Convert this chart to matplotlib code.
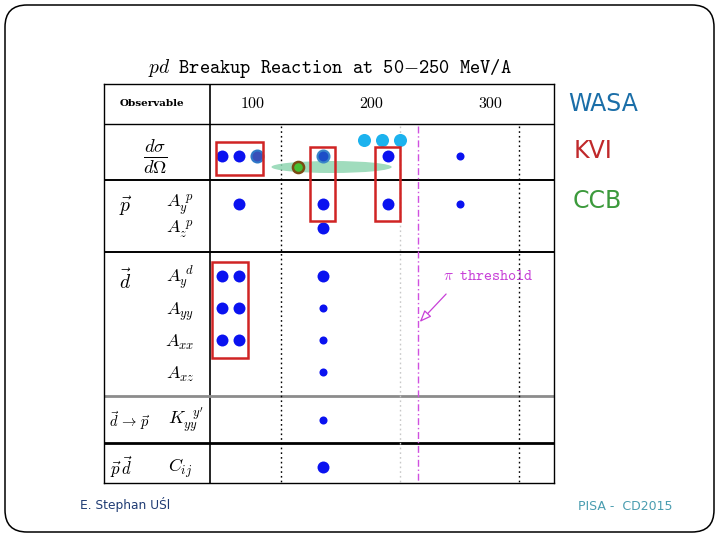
import numpy as np
import matplotlib
matplotlib.use("Agg")
import matplotlib.pyplot as plt
from matplotlib.patches import FancyBboxPatch, Rectangle, Ellipse

plt.rcParams['mathtext.fontset'] = 'cm'

# ================= DATA =================
# energy ticks (MeV/A)
tick_energies = [100, 200, 300]
tick_labels = ["100", "200", "300"]
pi_threshold = 215

# observables (rows of the table)
row_names = ["dsigma", "Ayp", "Azp", "Ayd", "Ayy", "Axx", "Axz", "Kyy", "Cij"]

# measured points: (row, energy, size class)
blue_rows = ["dsigma", "dsigma", "dsigma", "dsigma", "dsigma",
             "Ayp", "Ayp", "Ayp", "Ayp",
             "Azp",
             "Ayd", "Ayd", "Ayd",
             "Ayy", "Ayy", "Ayy",
             "Axx", "Axx", "Axx",
             "Axz", "Kyy", "Cij"]
blue_energies = [50, 65, 135, 190, 250,
                 65, 135, 190, 250,
                 135,
                 50, 65, 135,
                 50, 65, 135,
                 50, 65, 135,
                 135, 135, 135]
blue_sizes = ["L", "L", "L", "L", "S",
              "L", "L", "L", "S",
              "L",
              "L", "L", "L",
              "L", "L", "S",
              "L", "L", "S",
              "S", "S", "L"]

# KVI/WASA shaded points in cross section row
steel_energies = [80, 135]
wasa_energies = [170, 185, 200]
ccb_energy = 114
ccb_range = (92, 193)

# KVI boxes: (E_min, E_max, first row, last row)
kvi_boxes = [(45, 85, "dsigma", "dsigma"),
             (124, 145, "dsigma", "Ayp"),
             (179, 200, "dsigma", "Ayp"),
             (42, 72, "Ayd", "Axx")]

# ================= LAYOUT =================
W, H = 720, 540
px_per_mev = 1.19
x100 = 281


def e_of(px):
    return 100 + (px - x100) / px_per_mev


row_y = dict(zip(row_names, [156, 204, 228, 276, 308, 340, 372, 420, 467]))
tab_left, tab_right, tab_top, tab_bot = 104, 554, 84, 483

fig = plt.figure(figsize=(7.2, 5.4), dpi=100)

# slide background
bg = fig.add_axes([0, 0, 1, 1])
bg.set_xlim(0, W)
bg.set_ylim(H, 0)
bg.axis('off')
bg.add_patch(FancyBboxPatch((5, 5), 709, 527, boxstyle="round,pad=0,rounding_size=22",
                            fc='white', ec='black', lw=1.1))
bg.text(568, 104, "WASA", color='#1a6ea8', fontsize=17, va='center', ha='left')
bg.text(574, 151, "KVI", color='#c0282a', fontsize=17, va='center', ha='left')
bg.text(573, 201, "CCB", color='#3c9a3c', fontsize=17, va='center', ha='left')
bg.text(80, 504, "E. Stephan UŚl", color='#1f3b73', fontsize=8.8, va='center', ha='left')
bg.text(578, 507, "PISA -  CD2015", color='#4a9db0', fontsize=9, va='center', ha='left')
bg.text(330, 68, r"$pd$ Breakup Reaction at 50$-$250 MeV/A", family='cmtt10',
        fontsize=14, ha='center', va='center')

# table axes: x = energy, y = pixel rows
ax = fig.add_axes([tab_left / W, 1 - tab_bot / H, (tab_right - tab_left) / W,
                   (tab_bot - tab_top) / H])
ax.set_xlim(e_of(tab_left), e_of(tab_right))
ax.set_ylim(tab_bot, tab_top)
ax.set_xticks([])
ax.set_yticks([])
for s in ax.spines.values():
    s.set_linewidth(1.0)
ax.set_zorder(2)
ax.patch.set_alpha(0)

e_div = e_of(210)
ax.axvline(e_div, color='black', lw=1.2)
for y, c, lw in [(124, 'black', 1.0), (180, 'black', 1.4), (252, 'black', 1.4),
                 (396, '#8c8c8c', 2.0), (443, 'black', 2.0)]:
    ax.axhline(y, color=c, lw=lw)

# vertical guide lines
ax.vlines([tick_energies[0], tick_energies[2]], 126, tab_bot, colors='black',
          linestyles=(0, (1.2, 2.2)), lw=1.0)
ax.vlines(tick_energies[1], 126, tab_bot, colors='#c8c8c8', linestyles=(0, (1.2, 2.2)), lw=1.0)
ax.vlines(pi_threshold, 126, tab_bot, colors='#d050e0', linestyles=(0, (5, 2, 1, 2)), lw=1.0)

# header
for e, lab in zip(tick_energies, tick_labels):
    ax.text(e - 24, 104, lab, family='cmr10', fontsize=11.5, ha='center', va='center')
ax.text(e_of(152), 104, "Observable", family='DejaVu Serif', fontsize=7.5,
        fontweight='bold', ha='center', va='center')

# row labels
lx = e_of(180)
ax.text(e_of(155), 157, r"$\frac{d\sigma}{d\Omega}$", fontsize=19, ha='center', va='center')
ax.text(e_of(125), 206, r"$\vec{p}$", fontsize=14, ha='center', va='center')
ax.text(lx, 205, r"$A_y^{\ p}$", fontsize=13, ha='center', va='center')
ax.text(lx, 229, r"$A_z^{\ p}$", fontsize=13, ha='center', va='center')
ax.text(e_of(125), 281, r"$\vec{d}$", fontsize=14, ha='center', va='center')
ax.text(lx, 277, r"$A_y^{\ d}$", fontsize=13, ha='center', va='center')
ax.text(lx, 312, r"$A_{yy}$", fontsize=13, ha='center', va='center')
ax.text(lx, 342, r"$A_{xx}$", fontsize=13, ha='center', va='center')
ax.text(lx, 374, r"$A_{xz}$", fontsize=13, ha='center', va='center')
ax.text(e_of(130), 421, r"$\vec{d}\,\rightarrow\,\vec{p}$", fontsize=10.5, ha='center', va='center')
ax.text(e_of(186), 420, r"$K_{yy}^{\ \ y'}$", fontsize=13, ha='center', va='center')
ax.text(e_of(121), 467, r"$\vec{p}\,\vec{d}$", fontsize=12, ha='center', va='center')
ax.text(lx, 468, r"$C_{ij}$", fontsize=13, ha='center', va='center')

# CCB band and point
ax.add_patch(Ellipse(((ccb_range[0] + ccb_range[1]) / 2, 167), ccb_range[1] - ccb_range[0], 12,
                     fc='#8fd6b2', ec='none', alpha=0.85, zorder=3))
ax.plot(ccb_energy, 167, 'o', ms=8, mfc='#46c032', mec='#7a4a12', mew=1.8, zorder=5)

# measured points
size_pt = {"L": 8.6, "S": 5.8}
for r, e, s in zip(blue_rows, blue_energies, blue_sizes):
    if r == "dsigma" and e in steel_energies:
        continue
    ax.plot(e, row_y[r], 'o', ms=size_pt[s], color='#0a12f0', mec='none', zorder=5)
ax.plot(steel_energies[0], row_y["dsigma"], 'o', ms=8.6, mfc='#3a50b8', mec='#2f78c8',
        mew=1.5, zorder=5)
ax.plot(steel_energies[1], row_y["dsigma"], 'o', ms=8.6, mfc='#1c4ec8', mec='#3a86c8',
        mew=1.5, zorder=5)
ax.plot(wasa_energies, [140] * len(wasa_energies), 'o', ms=9.4, color='#1cb2ee',
        mec='none', zorder=5)

# KVI boxes
for e0, e1, r0, r1 in kvi_boxes:
    y0 = 262 if r0 == "Ayd" else (147 if r1 == "Ayp" else 142)
    y1 = {"dsigma": 175, "Ayp": 221, "Axx": 358}[r1]
    ax.add_patch(Rectangle((e0, y0), e1 - e0, y1 - y0, fill=False, ec='#d02424',
                           lw=1.8, zorder=6))

# pi threshold annotation
ax.annotate("", xy=(pi_threshold, 324), xytext=(e_of(448), 292),
            arrowprops=dict(arrowstyle='-|>,head_length=0.7,head_width=0.28', fc='white',
                            ec='#c840d8', lw=0.9), zorder=6)
ax.text(e_of(443), 277, r"$\pi$ threshold", family='cmtt10', color='#c840d8',
        fontsize=11, ha='left', va='center')

fig.savefig("out.png", dpi=100)
